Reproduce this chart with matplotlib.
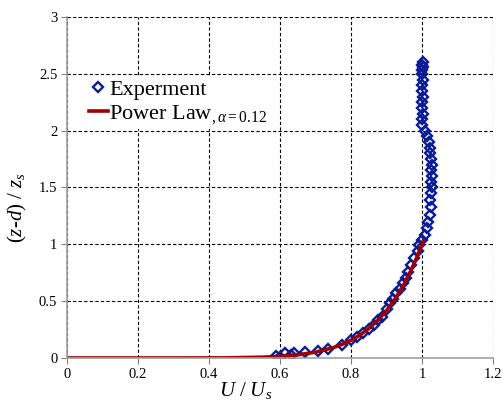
import matplotlib
matplotlib.use("Agg")
import matplotlib.pyplot as plt

# Experimental points (U/Us, (z-d)/zs)
exp_u = [0.590, 0.600, 0.615, 0.630, 0.640, 0.670, 0.707, 0.735, 0.775, 0.800,
         0.818, 0.835, 0.852, 0.865, 0.875, 0.888, 0.902, 0.910, 0.918, 0.928,
         0.937, 0.947, 0.956, 0.960, 0.970, 0.979, 0.989, 0.993, 1.001, 1.008,
         1.014, 1.018, 1.022, 1.025, 1.022, 1.025, 1.027, 1.025, 1.028, 1.025,
         1.027, 1.025, 1.022, 1.022, 1.020, 1.015, 1.010, 1.000, 1.000, 1.002,
         1.000, 1.000, 1.002, 1.000, 1.000, 1.002, 1.000, 1.000, 1.002, 1.000,
         1.002]
exp_z = [0.020, 0.010, 0.040, 0.025, 0.045, 0.055, 0.065, 0.075, 0.115, 0.155,
         0.185, 0.220, 0.255, 0.290, 0.330, 0.360, 0.430, 0.480, 0.520, 0.570,
         0.610, 0.660, 0.700, 0.760, 0.820, 0.880, 0.940, 0.990, 1.040, 1.080,
         1.140, 1.200, 1.260, 1.330, 1.390, 1.450, 1.500, 1.550, 1.600, 1.650,
         1.700, 1.750, 1.800, 1.850, 1.900, 1.950, 2.000, 2.050, 2.100, 2.150,
         2.200, 2.250, 2.300, 2.350, 2.400, 2.450, 2.500, 2.530, 2.560, 2.580,
         2.600]

# Power law curve points (U/Us, (z-d)/zs)
law_u = [0.0, 0.30, 0.45, 0.55, 0.60, 0.65, 0.70, 0.75, 0.775, 0.80, 0.825,
         0.85, 0.875, 0.90, 0.925, 0.95, 0.97, 0.985, 1.0, 1.004]
law_z = [0.0, 0.0, 0.001, 0.007, 0.014, 0.028, 0.051, 0.091, 0.120, 0.156,
         0.201, 0.258, 0.329, 0.416, 0.522, 0.652, 0.776, 0.882, 1.0, 1.03]

x_ticks = [0, 0.2, 0.4, 0.6, 0.8, 1, 1.2]
x_ticklabels = ["0", "0.2", "0.4", "0.6", "0.8", "1", "1.2"]
y_ticks = [0, 0.5, 1, 1.5, 2, 2.5, 3]
y_ticklabels = ["0", "0.5", "1", "1.5", "2", "2.5", "3"]

plt.rcParams['font.family'] = ['Liberation Serif', 'DejaVu Serif']
plt.rcParams['mathtext.fontset'] = 'custom'
plt.rcParams['mathtext.rm'] = 'Liberation Serif'
plt.rcParams['mathtext.it'] = 'Liberation Serif:italic'
plt.rcParams['mathtext.bf'] = 'Liberation Serif:bold'

fig = plt.figure(figsize=(5.03, 4.03), dpi=100)
ax = fig.add_axes([0.1332, 0.1117, 0.8468, 0.8461])

ax.plot(exp_u, exp_z, linestyle='none', marker='D', markersize=5.4,
        markerfacecolor='none', markeredgecolor='#0a1c96', markeredgewidth=1.7,
        label='Experment', zorder=3)
ax.plot(law_u, law_z, color='#a00000', linewidth=2.6,
        label=r'Power Law$_{,\alpha=0.12}$', zorder=4)

ax.set_xlim(0, 1.2)
ax.set_ylim(0, 3)
ax.set_xticks(x_ticks)
ax.set_xticklabels(x_ticklabels, fontfamily='Liberation Serif')
ax.set_yticks(y_ticks)
ax.set_yticklabels(y_ticklabels, fontfamily='Liberation Serif')
ax.tick_params(axis='both', labelsize=10.5, direction='out', length=4,
               color='#808080', width=0.8, pad=3)

ax.grid(True, color='black', linestyle=(0, (3, 2)), linewidth=0.8)
ax.set_axisbelow(True)
for s in ['top', 'right']:
    ax.spines[s].set_visible(False)
for s in ['left', 'bottom']:
    ax.spines[s].set_color('#a0a0a0')
    ax.spines[s].set_linewidth(1.2)
    ax.spines[s].set_zorder(5)

ax.set_xlabel(r'$U\ /\ U_s$', fontsize=15)
ax.xaxis.set_label_coords(0.42, -0.065)
ax.set_ylabel(r'$(z$-$d)\ /\ z_s$', fontsize=15)
ax.yaxis.set_label_coords(-0.09, 0.44)

leg = ax.legend(loc='upper left', bbox_to_anchor=(0.046, 0.823), fontsize=16,
                frameon=True, framealpha=1, facecolor='white', edgecolor='none',
                fancybox=False, handlelength=0.86, handletextpad=0.05,
                borderpad=0.1, labelspacing=0.15, borderaxespad=0.0)

fig.savefig('out.png', dpi=100)
